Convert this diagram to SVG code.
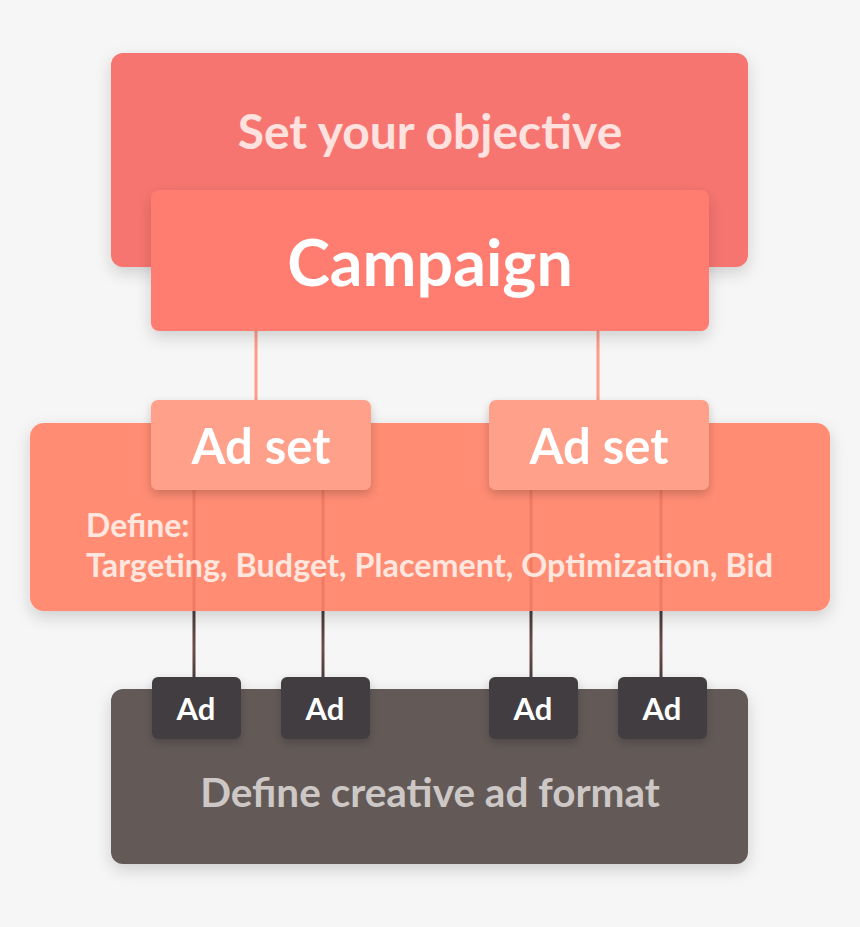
<svg xmlns="http://www.w3.org/2000/svg" width="860" height="927" viewBox="0 0 860 927">
<style>
text{font-family:Lato,"Open Sans","Liberation Sans",sans-serif;font-weight:700;text-anchor:middle}
.ad rect{fill:#433e3f}
.ad text{fill:#ffffff;font-size:31px}
.adset rect{fill:#ffa08a}
.adset text{fill:#ffffff;font-size:49px}
.lnA{stroke:#ff9b88;stroke-width:3}
.lnB{stroke:url(#gr);stroke-width:3}
.lnC{stroke:#f07a64;stroke-width:3}
</style>
<defs>
<filter id="sh" x="-20%" y="-20%" width="140%" height="160%">
<feDropShadow dx="0" dy="6" stdDeviation="8" flood-color="#000" flood-opacity="0.16"/>
</filter>
<filter id="sh2" x="-30%" y="-30%" width="160%" height="180%">
<feDropShadow dx="0" dy="4" stdDeviation="5" flood-color="#000" flood-opacity="0.2"/>
</filter>
<linearGradient id="gr" x1="0" y1="611" x2="0" y2="677" gradientUnits="userSpaceOnUse">
<stop offset="0" stop-color="#3f3535"/>
<stop offset="0.55" stop-color="#6e4e4a"/>
<stop offset="1" stop-color="#4a3d3d"/>
</linearGradient>
</defs>
<rect width="860" height="927" fill="#f6f6f6"/>

<g id="objective">
<rect x="111" y="53" width="637" height="214" rx="12" fill="#f7756f" filter="url(#sh)"/>
<text x="430" y="149" font-size="48" fill="#ffe2df">Set your objective</text>
</g>

<g id="define-adset">
<rect x="30" y="423" width="800" height="188" rx="14" fill="#ff8c73" filter="url(#sh)"/>
</g>

<g id="define-creative">
<rect x="111" y="689" width="637" height="175" rx="12" fill="#635a58" filter="url(#sh)"/>
<text x="430" y="807" font-size="40.5" fill="#cdc8c6">Define creative ad format</text>
</g>

<g id="connectors">
<line class="lnA" x1="256" y1="331" x2="256" y2="400"/>
<line class="lnA" x1="598" y1="331" x2="598" y2="400"/>
<line class="lnC" x1="194" y1="490" x2="194" y2="611"/>
<line class="lnC" x1="323" y1="490" x2="323" y2="611"/>
<line class="lnC" x1="531" y1="490" x2="531" y2="611"/>
<line class="lnC" x1="661" y1="490" x2="661" y2="611"/>
<line class="lnB" x1="194" y1="611" x2="194" y2="677"/>
<line class="lnB" x1="323" y1="611" x2="323" y2="677"/>
<line class="lnB" x1="531" y1="611" x2="531" y2="677"/>
<line class="lnB" x1="661" y1="611" x2="661" y2="677"/>
</g>

<g id="define-adset-label">
<text x="86" y="537" font-size="32" fill="#ffe6de" style="text-anchor:start">Define:</text>
<text x="86" y="577" font-size="32" fill="#ffe6de" style="text-anchor:start" textLength="687" lengthAdjust="spacingAndGlyphs">Targeting, Budget, Placement, Optimization, Bid</text>
</g>

<g id="campaign">
<rect x="151" y="190" width="558" height="141" rx="8" fill="#ff7b70" filter="url(#sh)"/>
<text x="430" y="286" font-size="64.5" fill="#ffffff">Campaign</text>
</g>

<g id="adset1" class="adset">
<rect x="151" y="400" width="220" height="90" rx="7" filter="url(#sh2)"/>
<text x="261" y="464">Ad set</text>
</g>
<g id="adset2" class="adset">
<rect x="489" y="400" width="220" height="90" rx="7" filter="url(#sh2)"/>
<text x="599" y="464">Ad set</text>
</g>

<g id="ad1" class="ad"><rect x="152" y="677" width="89" height="62" rx="6" filter="url(#sh2)"/><text x="196" y="720">Ad</text></g>
<g id="ad2" class="ad"><rect x="281" y="677" width="89" height="62" rx="6" filter="url(#sh2)"/><text x="325" y="720">Ad</text></g>
<g id="ad3" class="ad"><rect x="489" y="677" width="89" height="62" rx="6" filter="url(#sh2)"/><text x="533" y="720">Ad</text></g>
<g id="ad4" class="ad"><rect x="618" y="677" width="89" height="62" rx="6" filter="url(#sh2)"/><text x="662" y="720">Ad</text></g>
</svg>
